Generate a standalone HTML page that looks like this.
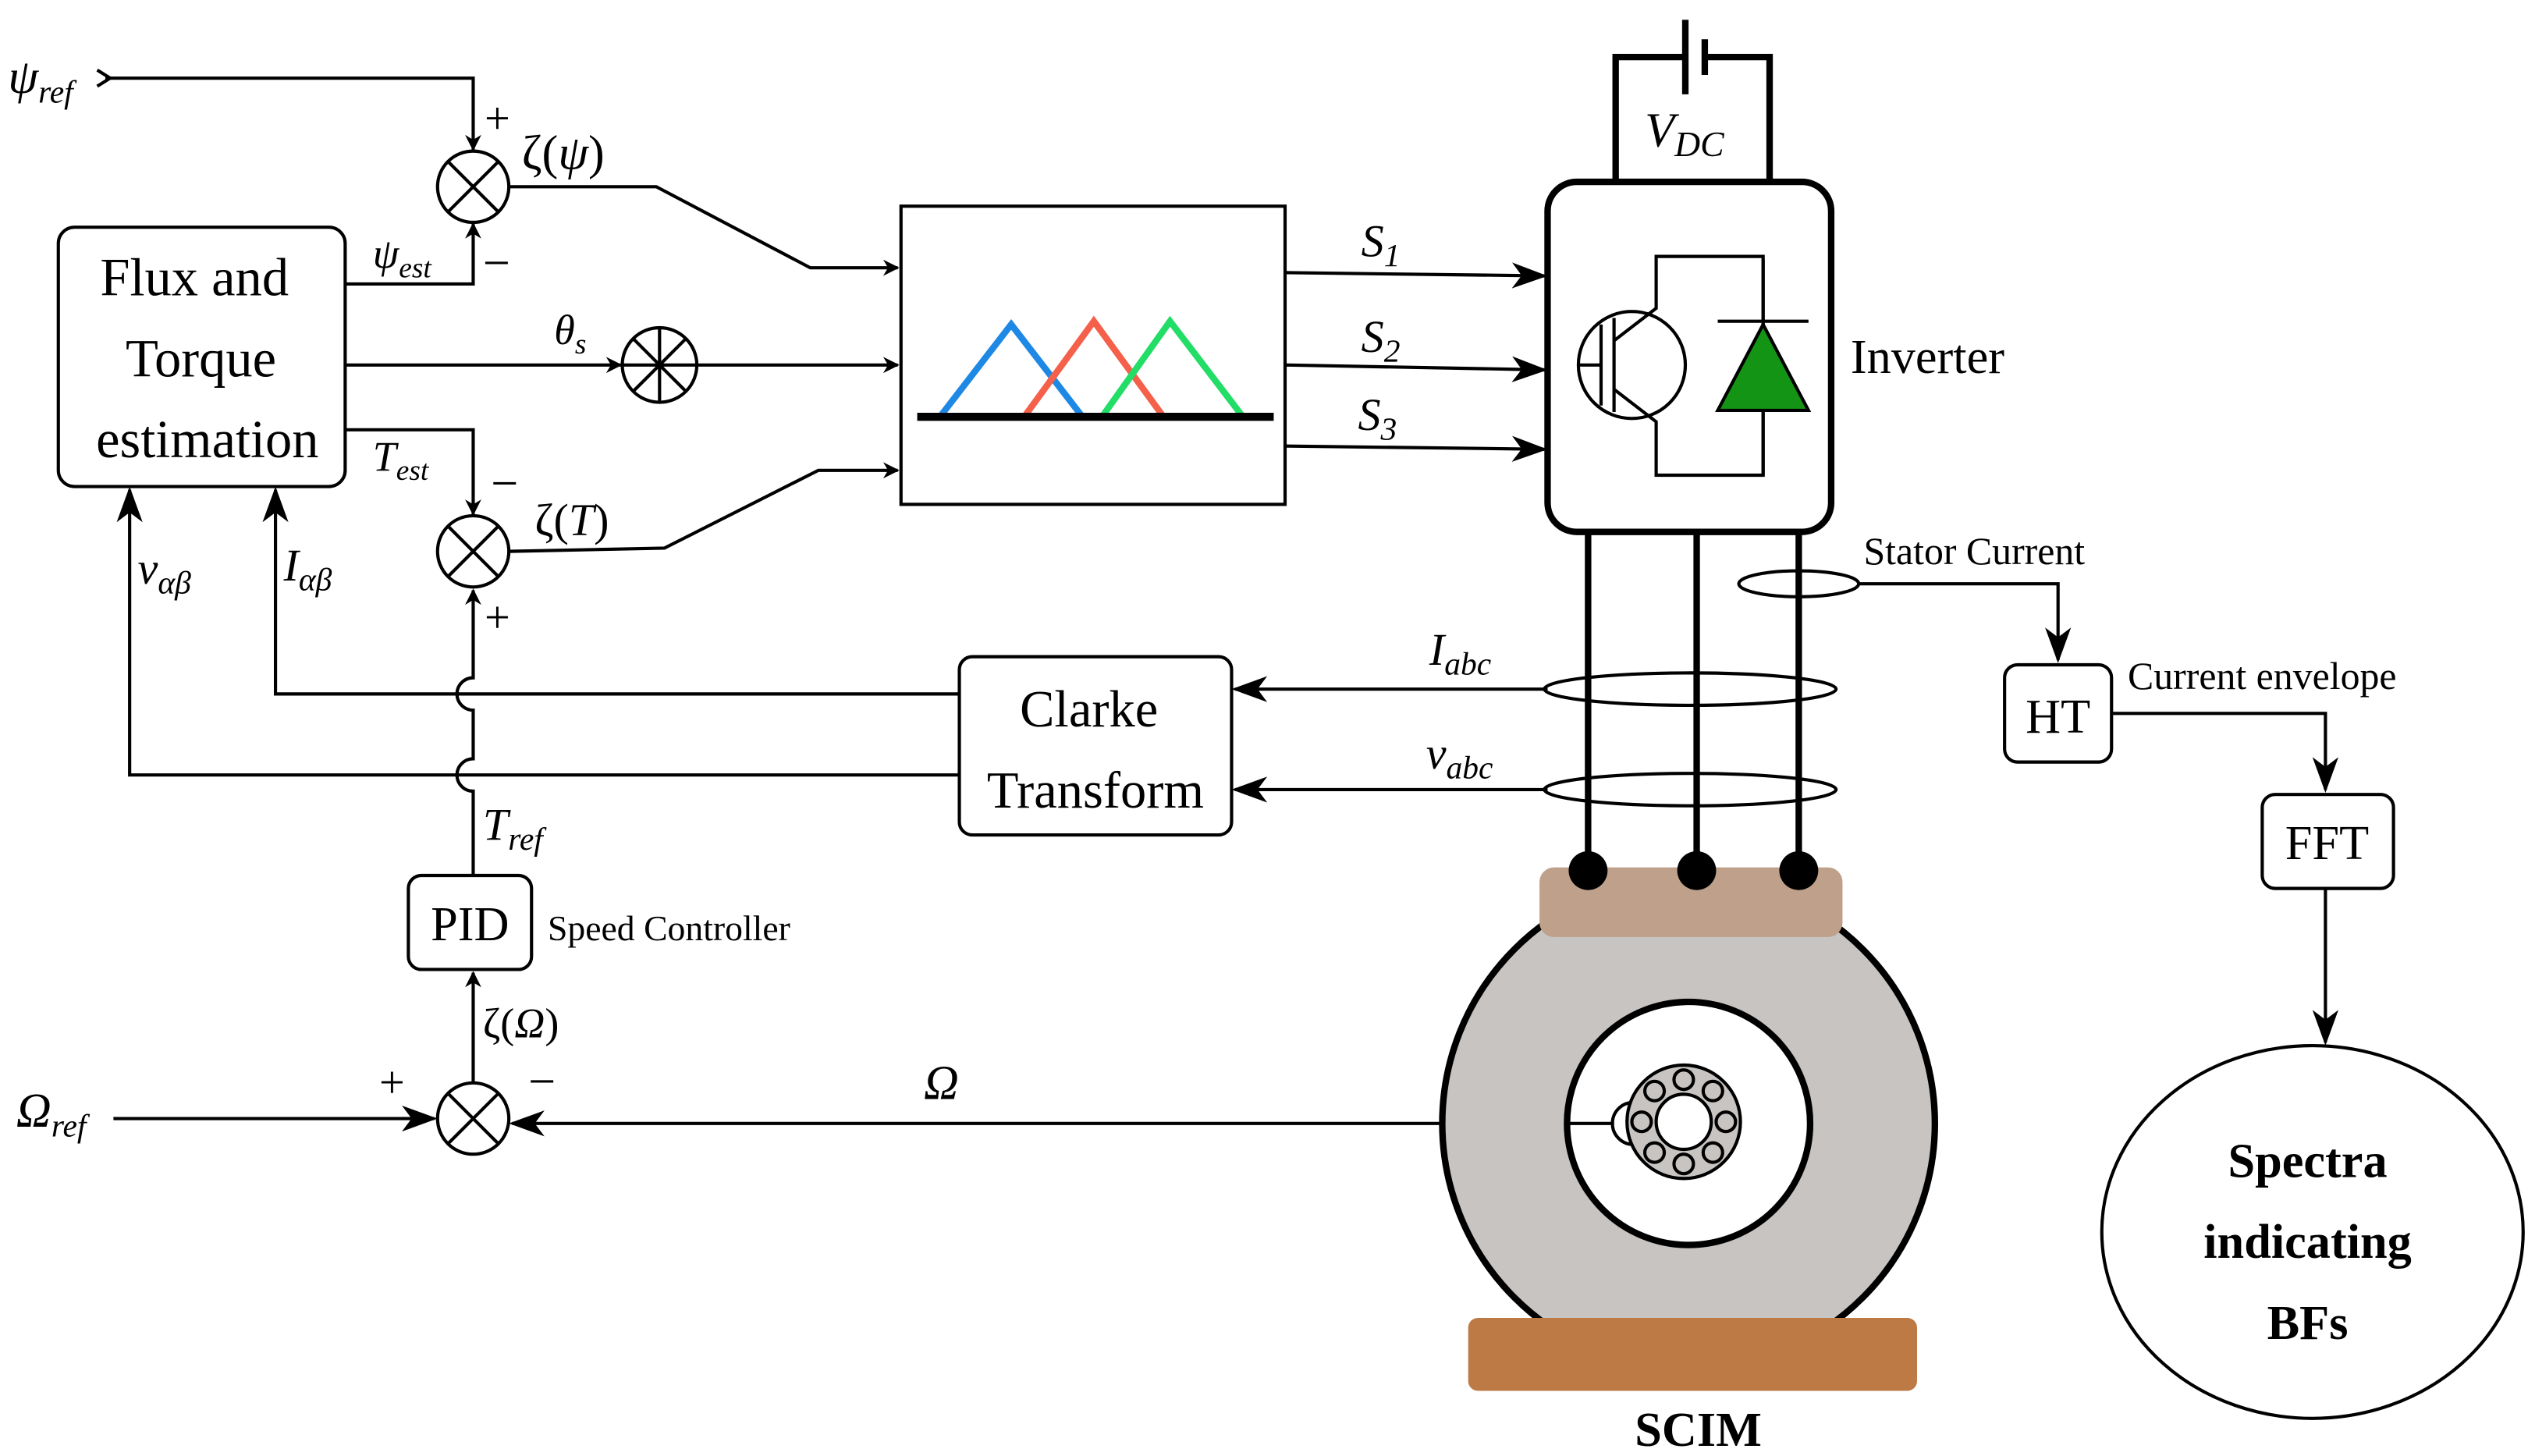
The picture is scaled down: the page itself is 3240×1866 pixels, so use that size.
<!DOCTYPE html>
<html><head><style>html,body{margin:0;padding:0;background:#fff}svg{display:block}
text{font-family:"Liberation Serif",serif;fill:#000}</style></head><body>
<svg width="3240" height="1866" viewBox="0 0 1560 898" xmlns="http://www.w3.org/2000/svg">
<defs><marker id="a" markerWidth="10" markerHeight="10" refX="9" refY="5" orient="auto" markerUnits="userSpaceOnUse"><path d="M0,0 L10,5 L0,10 L3,5z" fill="#000"/></marker>
<marker id="b" markerWidth="22" markerHeight="16" refX="20" refY="8" orient="auto" markerUnits="userSpaceOnUse"><path d="M0,0 L22,8 L0,16 L6,8z" fill="#000"/></marker></defs>
<g fill="none" stroke="#000" stroke-width="2">
<path d="M65,48 H292 V92" marker-end="url(#a)"/>
<path d="M60,43 L68,48 L60,53" />
<circle cx="292" cy="115" r="22"/><path d="M276,99 L308,131 M308,99 L276,131"/>
<rect x="36" y="140" width="177" height="160" rx="10"/>
<path d="M213,175 H292 V138" marker-end="url(#a)"/>
<path d="M213,225 H383" marker-end="url(#a)"/>
<circle cx="407" cy="225" r="23"/><path d="M384,225 H430 M407,202 V248 M391,209 L423,241 M423,209 L391,241"/>
<path d="M430,225 H554" marker-end="url(#a)"/>
<path d="M213,265 H292 V317" marker-end="url(#a)"/>
<circle cx="292" cy="340" r="22"/><path d="M276,324 L308,356 M308,324 L276,356"/>
<path d="M314,115 H405 L500,165 H554" marker-end="url(#a)"/>
<path d="M314,340 L410,338 L505,290 H554" marker-end="url(#a)"/>
<rect x="556" y="127" width="237" height="184"/>
<path d="M793,168 L953,170" marker-end="url(#b)"/>
<path d="M793,225 L953,228" marker-end="url(#b)"/>
<path d="M793,275 L953,277" marker-end="url(#b)"/>
<rect x="955" y="112" width="175" height="216" rx="18" stroke-width="4"/>
<path d="M997,112 V35 H1040 M1053,35 H1092 V112" stroke-width="4"/>
<path d="M1040,12 V58 M1052,24 V46" stroke-width="4"/>
<circle cx="1007" cy="225" r="33"/>
<path d="M988,200 V250 M975,225 H988 M996,196 V254 M996,210 L1022,190 V158 H1088 V293 H1022 V260 L996,240"/>
<path d="M1060,198 H1116"/>
<path d="M980,328 V535 M1047,328 V535 M1110,328 V535" stroke-width="4"/>
<ellipse cx="1110" cy="360" rx="37" ry="8"/>
<ellipse cx="1043" cy="425" rx="90" ry="10"/>
<ellipse cx="1043" cy="487" rx="90" ry="10"/>
<path d="M1147,360 H1270 V407" marker-end="url(#b)"/>
<rect x="1237" y="410" width="66" height="60" rx="8"/>
<path d="M1303,440 H1435 V487" marker-end="url(#b)"/>
<rect x="1396" y="490" width="81" height="58" rx="8"/>
<path d="M1435,548 V643" marker-end="url(#b)"/>
<ellipse cx="1427" cy="760" rx="130" ry="115"/>
<rect x="592" y="405" width="168" height="110" rx="8"/>
<path d="M955,425 H762" marker-end="url(#b)"/>
<path d="M955,487 H762" marker-end="url(#b)"/>
<path d="M592,428 H170 V302" marker-end="url(#b)"/>
<path d="M592,478 H80 V302" marker-end="url(#b)"/>
<path d="M292,540 V488 A10,10 0 0 1 292,468 V438 A10,10 0 0 1 292,418 V364" marker-end="url(#a)" fill="none"/>
<rect x="252" y="540" width="76" height="58" rx="8"/>
<path d="M292,668 V600" marker-end="url(#a)"/>
<circle cx="292" cy="690" r="22"/><path d="M276,674 L308,706 M308,674 L276,706"/>
<path d="M70,690 H268" marker-end="url(#b)"/>
<path d="M1000,693 H316" marker-end="url(#b)"/>
</g>
<g fill="none" stroke-width="4">
<path d="M580,257 L624,200 L668,257" stroke="#1e88e5"/>
<path d="M632,257 L675,198 L718,257" stroke="#f4604a"/>
<path d="M680,257 L722,198 L767,257" stroke="#22dd66"/>
<path d="M566,257 H786" stroke="#000" stroke-width="5"/>
</g>
<path d="M1060,253 L1088,200 L1116,253z" fill="#149414" stroke="#000" stroke-width="2"/>
<path d="M1088,200 V160 M1088,253 V293" stroke="#000" stroke-width="2"/>
<circle cx="1042" cy="693" r="152" fill="#c8c4c2" stroke="#000" stroke-width="4"/>
<rect x="950" y="535" width="187" height="43" rx="9" fill="#bfa08a"/>
<circle cx="980" cy="537" r="12"/><circle cx="1047" cy="537" r="12"/><circle cx="1110" cy="537" r="12"/>
<circle cx="1042" cy="693" r="75" fill="#fff" stroke="#000" stroke-width="4"/>
<path d="M1008,680 A13,13 0 0 0 1008,706" fill="#fff" stroke="#000" stroke-width="2"/>
<line x1="968" y1="693" x2="996" y2="693" stroke="#000" stroke-width="2"/>
<circle cx="1039" cy="692" r="35" fill="#c8c4c2" stroke="#000" stroke-width="2"/>
<circle cx="1039" cy="692" r="17" fill="#fff" stroke="#000" stroke-width="2"/>
<g fill="#c8c4c2" stroke="#000" stroke-width="2">
<circle cx="1039" cy="666" r="6"/><circle cx="1057" cy="673" r="6"/><circle cx="1065" cy="692" r="6"/><circle cx="1057" cy="711" r="6"/><circle cx="1039" cy="718" r="6"/><circle cx="1021" cy="711" r="6"/><circle cx="1013" cy="692" r="6"/><circle cx="1021" cy="673" r="6"/></g>
<rect x="906" y="813" width="277" height="45" rx="6" fill="#be7a45"/>
<g font-size="30">
<text x="5" y="57" font-style="italic">ψ<tspan font-size="20" dy="6">ref</tspan></text>
<text x="299" y="82" font-size="28">+</text>
<text x="322" y="104">ζ(<tspan font-style="italic">ψ</tspan>)</text>
<text x="230" y="165" font-style="italic" font-size="26">ψ<tspan font-size="18" dy="6">est</tspan></text>
<text x="298" y="172" font-size="30">−</text>
<text x="342" y="212" font-style="italic" font-size="26">θ<tspan font-size="18" dy="6">s</tspan></text>
<text x="230" y="290" font-style="italic" font-size="26">T<tspan font-size="18" dy="6">est</tspan></text>
<text x="303" y="308" font-size="30">−</text>
<text x="330" y="330" font-size="28">ζ(<tspan font-style="italic">T</tspan>)</text>
<text x="299" y="390" font-size="28">+</text>
<text x="120" y="182" text-anchor="middle" font-size="33">Flux and</text>
<text x="124" y="232" text-anchor="middle" font-size="33">Torque</text>
<text x="128" y="282" text-anchor="middle" font-size="33">estimation</text>
<text x="840" y="158" font-style="italic" font-size="28">S<tspan font-size="20" dy="6">1</tspan></text>
<text x="840" y="217" font-style="italic" font-size="28">S<tspan font-size="20" dy="6">2</tspan></text>
<text x="838" y="265" font-style="italic" font-size="28">S<tspan font-size="20" dy="6">3</tspan></text>
<text x="1015" y="90" font-style="italic">V<tspan font-size="22" dy="6">DC</tspan></text>
<text x="1142" y="230">Inverter</text>
<text x="1150" y="348" font-size="24">Stator Current</text>
<text x="1270" y="452" text-anchor="middle">HT</text>
<text x="1313" y="425" font-size="24">Current envelope</text>
<text x="1436" y="530" text-anchor="middle">FFT</text>
<g font-weight="bold" font-size="30" text-anchor="middle"><text x="1424" y="726">Spectra</text><text x="1424" y="776">indicating</text><text x="1424" y="826">BFs</text></g>
<text x="1048" y="892" font-weight="bold" text-anchor="middle">SCIM</text>
<text x="672" y="448" text-anchor="middle" font-size="32">Clarke</text>
<text x="676" y="498" text-anchor="middle" font-size="32">Transform</text>
<text x="882" y="410" font-style="italic" font-size="28">I<tspan font-size="20" dy="6">abc</tspan></text>
<text x="880" y="474" font-style="italic" font-size="28">v<tspan font-size="20" dy="6">abc</tspan></text>
<text x="175" y="358" font-style="italic" font-size="28">I<tspan font-size="20" dy="6">αβ</tspan></text>
<text x="85" y="360" font-style="italic" font-size="28">v<tspan font-size="20" dy="6">αβ</tspan></text>
<text x="298" y="518" font-style="italic" font-size="28">T<tspan font-size="20" dy="6">ref</tspan></text>
<text x="290" y="580" text-anchor="middle">PID</text>
<text x="338" y="580" font-size="22">Speed Controller</text>
<text x="298" y="640" font-size="26">ζ(<tspan font-style="italic">Ω</tspan>)</text>
<text x="10" y="695" font-style="italic">Ω<tspan font-size="20" dy="6">ref</tspan></text>
<text x="234" y="677" font-size="28">+</text>
<text x="326" y="677" font-size="30">−</text>
<text x="570" y="678" font-style="italic">Ω</text>
</g>
</svg></body></html>
